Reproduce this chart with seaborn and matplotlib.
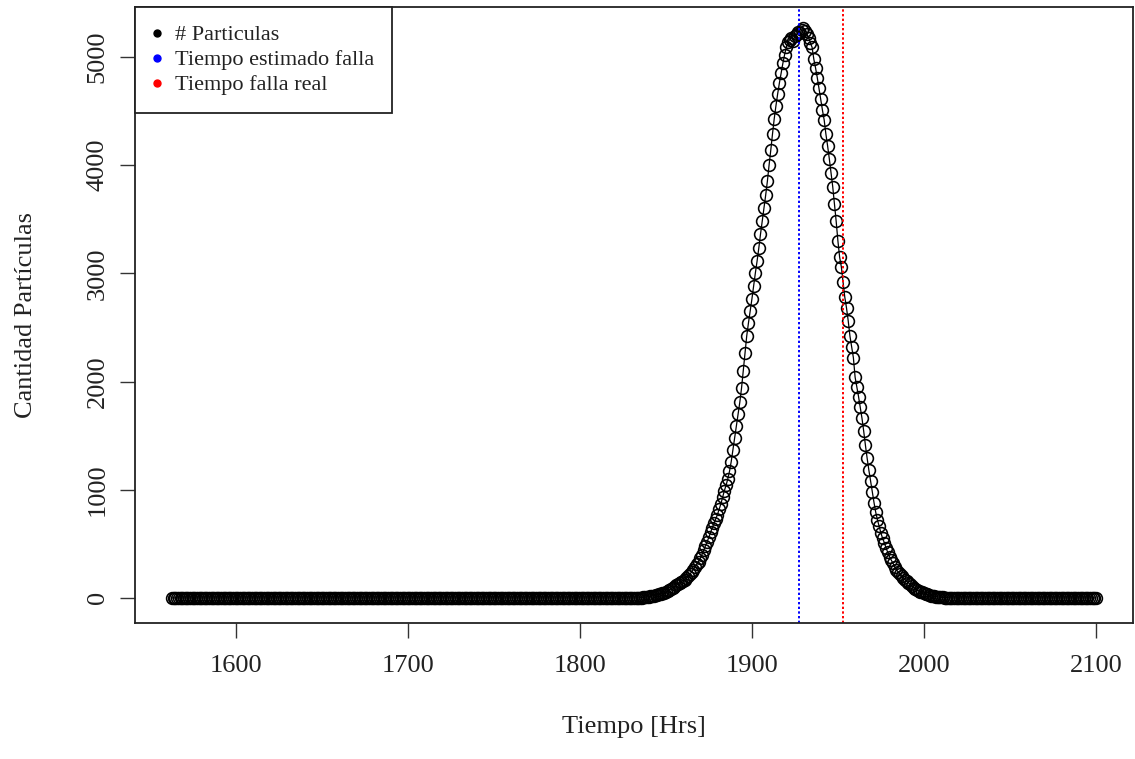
import numpy as np
import pandas as pd
import matplotlib
matplotlib.use("Agg")
import matplotlib.pyplot as plt
from matplotlib.lines import Line2D
import seaborn as sns

# =====================
# data
# =====================
t_first = 1563          # first hour on the curve
t_last = 2100           # last hour on the curve
t_peak_start = 1835     # first hour with a visible count
# particle counts, one per hour, from t_peak_start on
peak_counts = [
    2, 3, 4, 6, 8, 11, 14, 18, 21, 24,                      # 1835-1844
    28, 32, 36, 41, 47, 54, 62, 72, 82, 93,                 # 1845-1854
    104, 116, 128, 140, 150, 160, 170, 185, 200, 220,       # 1855-1864
    240, 262, 285, 310, 335, 365, 400, 440, 480, 520,       # 1865-1874
    560, 605, 650, 690, 730, 770, 820, 870, 930, 990,       # 1875-1884
    1040, 1100, 1170, 1260, 1370, 1480, 1590, 1700, 1810, 1940,   # 1885-1894
    2100, 2260, 2420, 2540, 2650, 2760, 2880, 3000, 3110, 3230,   # 1895-1904
    3360, 3480, 3600, 3720, 3850, 4000, 4140, 4290, 4430, 4550,   # 1905-1914
    4660, 4760, 4850, 4940, 5020, 5090, 5140, 5160, 5180, 5150,   # 1915-1924
    5190, 5210, 5230, 5220, 5250, 5270, 5240, 5210, 5180, 5130,   # 1925-1934
    5090, 4980, 4900, 4810, 4710, 4610, 4510, 4420, 4290, 4180,   # 1935-1944
    4060, 3930, 3800, 3640, 3480, 3300, 3150, 3060, 2920, 2780,   # 1945-1954
    2680, 2560, 2420, 2320, 2220, 2040, 1950, 1860, 1760, 1660,   # 1955-1964
    1540, 1410, 1290, 1180, 1080, 980, 880, 790, 720, 660,        # 1965-1974
    600, 550, 510, 460, 420, 380, 350, 320, 290, 260,             # 1975-1984
    240, 220, 200, 185, 170, 155, 140, 125, 110, 95,              # 1985-1994
    85, 75, 65, 57, 50, 43, 37, 32, 27, 22,                       # 1995-2004
    18, 15, 12, 9, 7, 5, 4, 3, 2, 1,                              # 2005-2014
    0,                                                            # 2015
]
t_estimado = 1927.5     # tiempo estimado de falla
t_real = 1953.0         # tiempo de falla real

x_ticks = [1600, 1700, 1800, 1900, 2000, 2100]
y_ticks = [0, 1000, 2000, 3000, 4000, 5000]

horas = np.arange(t_first, t_last + 1)
n_before = t_peak_start - t_first
n_after = len(horas) - n_before - len(peak_counts)
cantidad = [0] * n_before + peak_counts + [0] * n_after
df = pd.DataFrame({"Tiempo": horas, "Cantidad": cantidad})

# =====================
# figure
# =====================
sns.set_style("ticks")
plt.rcParams["font.family"] = ["Liberation Serif", "DejaVu Serif"]

fig = plt.figure(figsize=(11.35, 7.59), dpi=100)
ax = fig.add_axes([135 / 1135, 1 - 623 / 759, (1133 - 135) / 1135, (623 - 7) / 759])

sns.lineplot(data=df, x="Tiempo", y="Cantidad", ax=ax, color="black",
             linewidth=0.9, marker="o", markersize=8.5,
             markerfacecolor="none", markeredgecolor="black",
             markeredgewidth=1.15)

ax.axvline(t_estimado, color="#0000FF", linewidth=1.4, linestyle=(0, (1.2, 1.2)))
ax.axvline(t_real, color="#FF0000", linewidth=1.4, linestyle=(0, (1.2, 1.2)))

ax.set_xlim(1541.5, 2121.5)
ax.set_ylim(-232, 5462)
ax.set_xticks(x_ticks)
ax.set_yticks(y_ticks)
ax.tick_params(axis="both", length=11, width=1, color="#333333",
               labelsize=19, labelcolor="#222222")
ax.tick_params(axis="x", pad=12)
ax.tick_params(axis="y", pad=8)
for lab in ax.get_yticklabels():
    lab.set_rotation(90)
    lab.set_va("center")

for s in ax.spines.values():
    s.set_linewidth(1.3)
    s.set_color("#222222")

ax.set_xlabel("Tiempo [Hrs]", fontsize=19, labelpad=28, color="#222222")
ax.set_ylabel("Cantidad Partículas", fontsize=19, labelpad=36, color="#222222")

handles = [
    Line2D([], [], linestyle="none", marker="o", markersize=5, color="black"),
    Line2D([], [], linestyle="none", marker="o", markersize=5, color="#0000FF"),
    Line2D([], [], linestyle="none", marker="o", markersize=5, color="#FF0000"),
]
labels = ["# Particulas", "Tiempo estimado falla", "Tiempo falla real"]
leg = ax.legend(handles, labels, loc="upper left", fontsize=16,
                frameon=True, fancybox=False, borderaxespad=0,
                borderpad=0.8, labelspacing=0.2, handlelength=0.4,
                handletextpad=0.6)
leg.get_frame().set_edgecolor("#222222")
leg.get_frame().set_linewidth(1.3)
leg.get_frame().set_alpha(1)
for txt in leg.get_texts():
    txt.set_color("#222222")

fig.savefig("out.png", dpi=100, facecolor="white")
